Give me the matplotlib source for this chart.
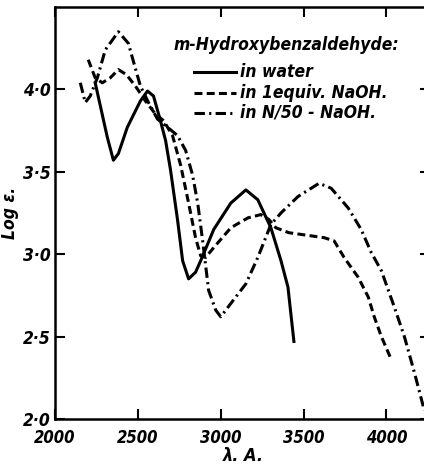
import matplotlib
matplotlib.use("Agg")
import matplotlib.pyplot as plt
from matplotlib import font_manager

# in water
water_x = [2242, 2273, 2315, 2352, 2382, 2436, 2515, 2558, 2594, 2636, 2667, 2697,
           2739, 2770, 2806, 2848, 2879, 2958, 3061, 3152, 3224, 3303, 3364, 3406, 3442]
water_y = [4.04, 3.90, 3.71, 3.57, 3.61, 3.77, 3.93, 3.99, 3.96, 3.81, 3.69, 3.51,
           3.21, 2.96, 2.85, 2.89, 2.96, 3.15, 3.31, 3.39, 3.33, 3.16, 2.96, 2.80, 2.47]

# in 1 equiv. NaOH
equiv_x = [2200, 2242, 2285, 2333, 2382, 2430, 2485, 2545, 2606, 2655, 2709, 2758,
           2806, 2848, 2879, 2909, 2958, 3061, 3164, 3242, 3291, 3333, 3412, 3624,
           3685, 3745, 3830, 3891, 3927, 3970, 4030]
equiv_y = [4.18, 4.07, 4.04, 4.07, 4.12, 4.09, 4.02, 3.93, 3.85, 3.81, 3.72, 3.54,
           3.31, 3.10, 2.99, 2.98, 3.04, 3.16, 3.22, 3.24, 3.21, 3.16, 3.13, 3.10,
           3.08, 2.98, 2.86, 2.74, 2.62, 2.50, 2.36]

# in N/50-NaOH
n50_x = [2152, 2182, 2212, 2255, 2303, 2382, 2442, 2515, 2564, 2618, 2667, 2739,
         2788, 2830, 2861, 2891, 2909, 2927, 2970, 3000, 3091, 3152, 3224, 3303,
         3364, 3467, 3594, 3667, 3770, 3848, 3909, 3970, 4048, 4109, 4170, 4230]
n50_y = [4.04, 3.92, 3.96, 4.07, 4.24, 4.35, 4.28, 4.02, 3.92, 3.82, 3.78, 3.72,
         3.63, 3.48, 3.31, 3.08, 2.93, 2.78, 2.66, 2.62, 2.74, 2.82, 2.98, 3.18,
         3.25, 3.35, 3.43, 3.40, 3.28, 3.15, 3.01, 2.90, 2.68, 2.50, 2.28, 2.05]

x_ticks = [2000, 2500, 3000, 3500, 4000]
x_ticklabels = ["2000", "2500", "3000", "3500", "4000"]
y_ticks = [2.0, 2.5, 3.0, 3.5, 4.0]
y_ticklabels = ["2·0", "2·5", "3·0", "3·5", "4·0"]
legend_title = "m-Hydroxybenzaldehyde:"
legend_labels = ["in water", "in 1equiv. NaOH.", "in N/50 - NaOH."]

names = {f.name for f in font_manager.fontManager.ttflist}
if "Liberation Sans Narrow" in names:
    font = dict(family="Liberation Sans Narrow", style="italic", weight="bold")
else:
    font = dict(family="DejaVu Sans", style="italic", weight="bold", stretch="condensed")

fig = plt.figure(figsize=(4.24, 4.67), dpi=100)
ax = fig.add_axes([0.130, 0.103, 0.885, 0.882])

lw = 2.2
dash_equiv = (2.6, 1.4)
dash_n50 = (3.4, 1.4, 0.7, 1.4)
ax.plot(water_x, water_y, color="black", lw=lw)
ax.plot(equiv_x, equiv_y, color="black", lw=lw, dashes=dash_equiv)
ax.plot(n50_x, n50_y, color="black", lw=lw, dashes=dash_n50)

ax.set_xlim(2000, 4266)
ax.set_ylim(2.0, 4.5)

for s in ax.spines.values():
    s.set_linewidth(1.8)

ax.set_xticks(x_ticks)
ax.set_xticklabels(x_ticklabels, fontsize=12, **font)
ax.set_yticks(y_ticks)
ax.set_yticklabels(y_ticklabels, fontsize=12.5, **font)
ax.tick_params(axis="both", direction="in", length=7, width=1.5,
               top=True, right=True, labeltop=False, labelright=False)
ax.tick_params(axis="x", pad=7)
ax.tick_params(axis="y", pad=3)

ax.set_ylabel("Log ε.", fontsize=12.5, labelpad=3, **font)
ax.set_xlabel("λ. A.", fontsize=13, labelpad=0, **font)

# legend drawn manually in axes coordinates
ax.text(0.315, 0.908, legend_title, transform=ax.transAxes, fontsize=12.5,
        ha="left", va="center", **font)
entry_y = [0.842, 0.791, 0.743]
styles = [dict(), dict(dashes=dash_equiv), dict(dashes=dash_n50)]
for yy, lab, st in zip(entry_y, legend_labels, styles):
    ax.plot([0.369, 0.483], [yy, yy], transform=ax.transAxes, color="black", lw=lw, **st)
    ax.text(0.493, yy, lab, transform=ax.transAxes, fontsize=12.5,
            ha="left", va="center", **font)

fig.savefig("out.png", dpi=100)
